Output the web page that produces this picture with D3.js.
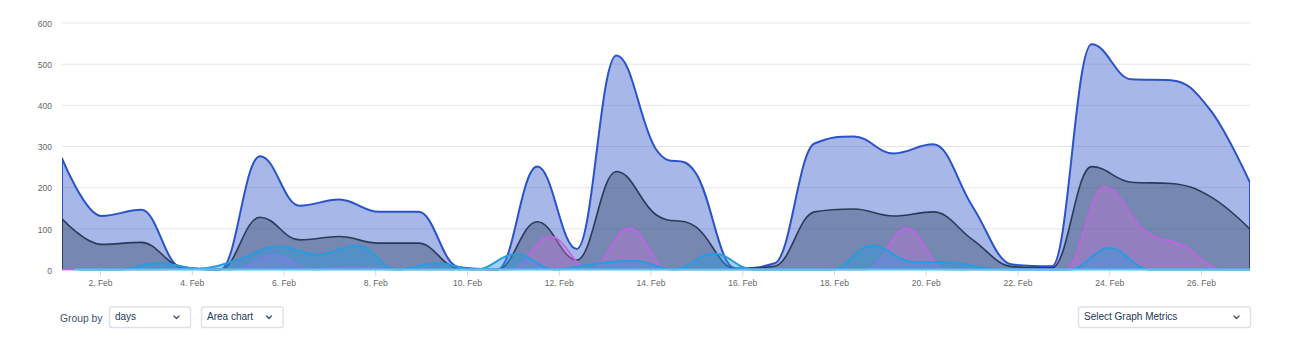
<!DOCTYPE html>
<html>
<head>
<meta charset="utf-8">
<script src="https://cdn.jsdelivr.net/npm/d3@7"></script>
<style>
  html, body { margin: 0; padding: 0; background: #fff; }
  svg { display: block; font-family: "Liberation Sans", Arial, sans-serif; }
</style>
</head>
<body>
<svg id="chart" width="1293" height="345"></svg>
<script>
// ---- data ---------------------------------------------------------------
const yTicks = [0, 100, 200, 300, 400, 500, 600];
const xTickDates = ["2021-02-02", "2021-02-04", "2021-02-06", "2021-02-08", "2021-02-10",
                    "2021-02-12", "2021-02-14", "2021-02-16", "2021-02-18", "2021-02-20",
                    "2021-02-22", "2021-02-24", "2021-02-26"];
const rangeStart = "2021-02-01T04:07:00Z";
const rangeEnd = "2021-02-27T01:38:00Z";
const stepsInRange = 30;

const totalValues   = [270, 130, 145, 5, 0, 275, 155, 170, 140, 140, 6, 0, 250, 50, 520, 292, 235, 3, 15,
                       306, 323, 282, 304, 152, 12, 8, 547, 462, 460, 387, 211];
const primaryValues = [123, 61, 66, 7, 0, 127, 72, 80, 64, 64, 3, 0, 116, 23, 238, 133, 104, 2, 8,
                       140, 147, 130, 140, 72, 7, 4, 250, 212, 209, 177, 98];
const violetValues  = [0, 0, 0, 0, 3, 0, 35, 0, 8, 0, 0, 0, 0, 80, 0, 100, 0, 0, 0, 0, 0, 0,
                       100, 0, 0, 0, 0, 200, 95, 57, 0, 0];
const cyanValues    = [0, 0, 16, 2, 24, 56, 36, 58, 0, 15, 0, 37, 0, 14, 21, 0, 39, 0, 0, 0, 58,
                       19, 17, 2, 0, 0, 52, 0, 0, 0, 0];
const baseValues    = [0, 0, 0, 0, 0, 0, 0, 0, 0, 0, 0, 0, 0, 0, 0, 0, 0, 0, 0, 0, 0, 0, 0, 0, 0,
                       0, 0, 0, 0, 0, 0];

// firstIndex / shift place each series' samples on the shared time grid
const series = [
  { values: totalValues,   firstIndex: 0,  shift: 0,     line: "#2b53c9", fill: "#2b53c9", fillOpacity: 0.42, width: 2 },
  { values: primaryValues, firstIndex: 0,  shift: 0,     line: "#2c3a5a", fill: "#2f3e5e", fillOpacity: 0.40, width: 1.6 },
  { values: violetValues,  firstIndex: -1, shift: 0.328, line: "#c462e4", fill: "#c86edc", fillOpacity: 0.36, width: 1.6 },
  { values: cyanValues,    firstIndex: 0,  shift: 0.455, line: "#2a9be0", fill: "#2a9be0", fillOpacity: 0.45, width: 2 },
  { values: baseValues,    firstIndex: 0,  shift: 0.328, line: "#5cc2ee", fill: "#5cc2ee", fillOpacity: 0.3,  width: 2.2 }
];

// ---- layout -------------------------------------------------------------
const svg = d3.select("#chart");
const plot = { left: 62, right: 1250, top: 22.5, bottom: 269.5 };

const t0 = new Date(rangeStart), t1 = new Date(rangeEnd);
const stepMs = (t1 - t0) / stepsInRange;

const x = d3.scaleUtc().domain([t0, t1]).range([plot.left, plot.right]);
const y = d3.scaleLinear().domain([0, 600]).range([plot.bottom, plot.top]);

svg.append("defs").append("clipPath").attr("id", "plotClip")
  .append("rect")
  .attr("x", plot.left).attr("y", 0)
  .attr("width", plot.right - plot.left).attr("height", plot.bottom + 2);

// grid lines + y labels
const yAxis = d3.axisLeft(y).tickValues(yTicks).tickSize(-(plot.right - plot.left)).tickPadding(10);
const gy = svg.append("g").attr("transform", `translate(${plot.left},0)`).call(yAxis);
gy.select(".domain").remove();
gy.selectAll(".tick line").attr("stroke", "#e6e6e6").attr("stroke-width", 1);
gy.selectAll(".tick text")
  .attr("fill", "#666666").attr("font-size", "8.5px")
  .attr("font-family", "'Liberation Sans', Arial, sans-serif")
  .attr("dy", "0.45em");

// x axis
const fmt = d3.utcFormat("%-d. %b");
const xAxis = d3.axisBottom(x)
  .tickValues(xTickDates.map(d => new Date(d + "T00:00:00Z")))
  .tickFormat(fmt).tickSize(6).tickPadding(4);
const gx = svg.append("g").attr("transform", `translate(0,${plot.bottom})`).call(xAxis);
gx.select(".domain").remove();
gx.selectAll(".tick line").attr("stroke", "#ccd6eb");
gx.selectAll(".tick text")
  .attr("fill", "#666666").attr("font-size", "8.5px")
  .attr("font-family", "'Liberation Sans', Arial, sans-serif");

// ---- smooth spline (tangent-based bezier through every sample) ----------
function splineThrough(ctx, pts) {
  const s = 1.5, den = s + 1;
  let prevRC = null;
  for (let i = 1; i < pts.length; i++) {
    const px = pts[i][0], py = pts[i][1];
    const last = pts[i - 1], next = pts[i + 1];
    let lcx = px, lcy = py, rcx = null, rcy = null;
    if (next) {
      lcx = (s * px + last[0]) / den; lcy = (s * py + last[1]) / den;
      rcx = (s * px + next[0]) / den; rcy = (s * py + next[1]) / den;
      let corr = 0;
      if (rcx !== lcx) corr = ((rcy - lcy) * (rcx - px)) / (rcx - lcx) + py - rcy;
      lcy += corr; rcy += corr;
      if (lcy > last[1] && lcy > py) { lcy = Math.max(last[1], py); rcy = 2 * py - lcy; }
      else if (lcy < last[1] && lcy < py) { lcy = Math.min(last[1], py); rcy = 2 * py - lcy; }
      if (rcy > next[1] && rcy > py) { rcy = Math.max(next[1], py); lcy = 2 * py - rcy; }
      else if (rcy < next[1] && rcy < py) { rcy = Math.min(next[1], py); lcy = 2 * py - rcy; }
    }
    const c1 = prevRC || last;
    ctx.bezierCurveTo(c1[0], c1[1], lcx, lcy, px, py);
    prevRC = next ? [rcx, rcy] : null;
  }
}

const marks = svg.append("g").attr("clip-path", "url(#plotClip)");
const y0 = y(0);

series.forEach(s => {
  const pts = s.values.map((v, k) => [
    x(new Date(+t0 + (s.firstIndex + k + s.shift) * stepMs)),
    y(v)
  ]);
  const first = pts[0], last = pts[pts.length - 1];

  const area = d3.path();
  area.moveTo(first[0], y0);
  area.lineTo(first[0], first[1]);
  splineThrough(area, pts);
  area.lineTo(last[0], y0);
  area.closePath();

  const line = d3.path();
  line.moveTo(first[0], y0);
  line.lineTo(first[0], first[1]);
  splineThrough(line, pts);
  line.lineTo(last[0], y0);

  marks.append("path").attr("d", area.toString())
    .attr("fill", s.fill).attr("fill-opacity", s.fillOpacity).attr("stroke", "none");
  marks.append("path").attr("d", line.toString())
    .attr("fill", "none").attr("stroke", s.line).attr("stroke-width", s.width)
    .attr("stroke-linejoin", "round").attr("stroke-linecap", "round");
});

// ---- controls under the chart -------------------------------------------
const ui = svg.append("g").attr("font-family", "'Liberation Sans', Arial, sans-serif");
ui.append("text").attr("x", 60).attr("y", 319.5).attr("dominant-baseline", "middle")
  .attr("font-size", "10.3px").attr("fill", "#42526e").text("Group by");

const dropdowns = [
  { x: 109.5, w: 81, label: "days" },
  { x: 201.5, w: 81.5, label: "Area chart" },
  { x: 1078.5, w: 172, label: "Select Graph Metrics" }
];
dropdowns.forEach(d => {
  const g = ui.append("g");
  g.append("rect").attr("x", d.x).attr("y", 307).attr("width", d.w).attr("height", 20.5)
    .attr("rx", 2).attr("fill", "#fff").attr("stroke", "#dfe1e6").attr("stroke-width", 1.5);
  g.append("text").attr("x", d.x + 5.5).attr("y", 317.5).attr("dominant-baseline", "middle")
    .attr("font-size", "10px").attr("fill", "#253858").text(d.label);
  const cx = d.x + d.w - 14;
  g.append("path").attr("d", `M${cx - 2.5},${316} L${cx},${318.5} L${cx + 2.5},${316}`)
    .attr("fill", "none").attr("stroke", "#42526e").attr("stroke-width", 1.4)
    .attr("stroke-linecap", "round").attr("stroke-linejoin", "round");
});
</script>
</body>
</html>
